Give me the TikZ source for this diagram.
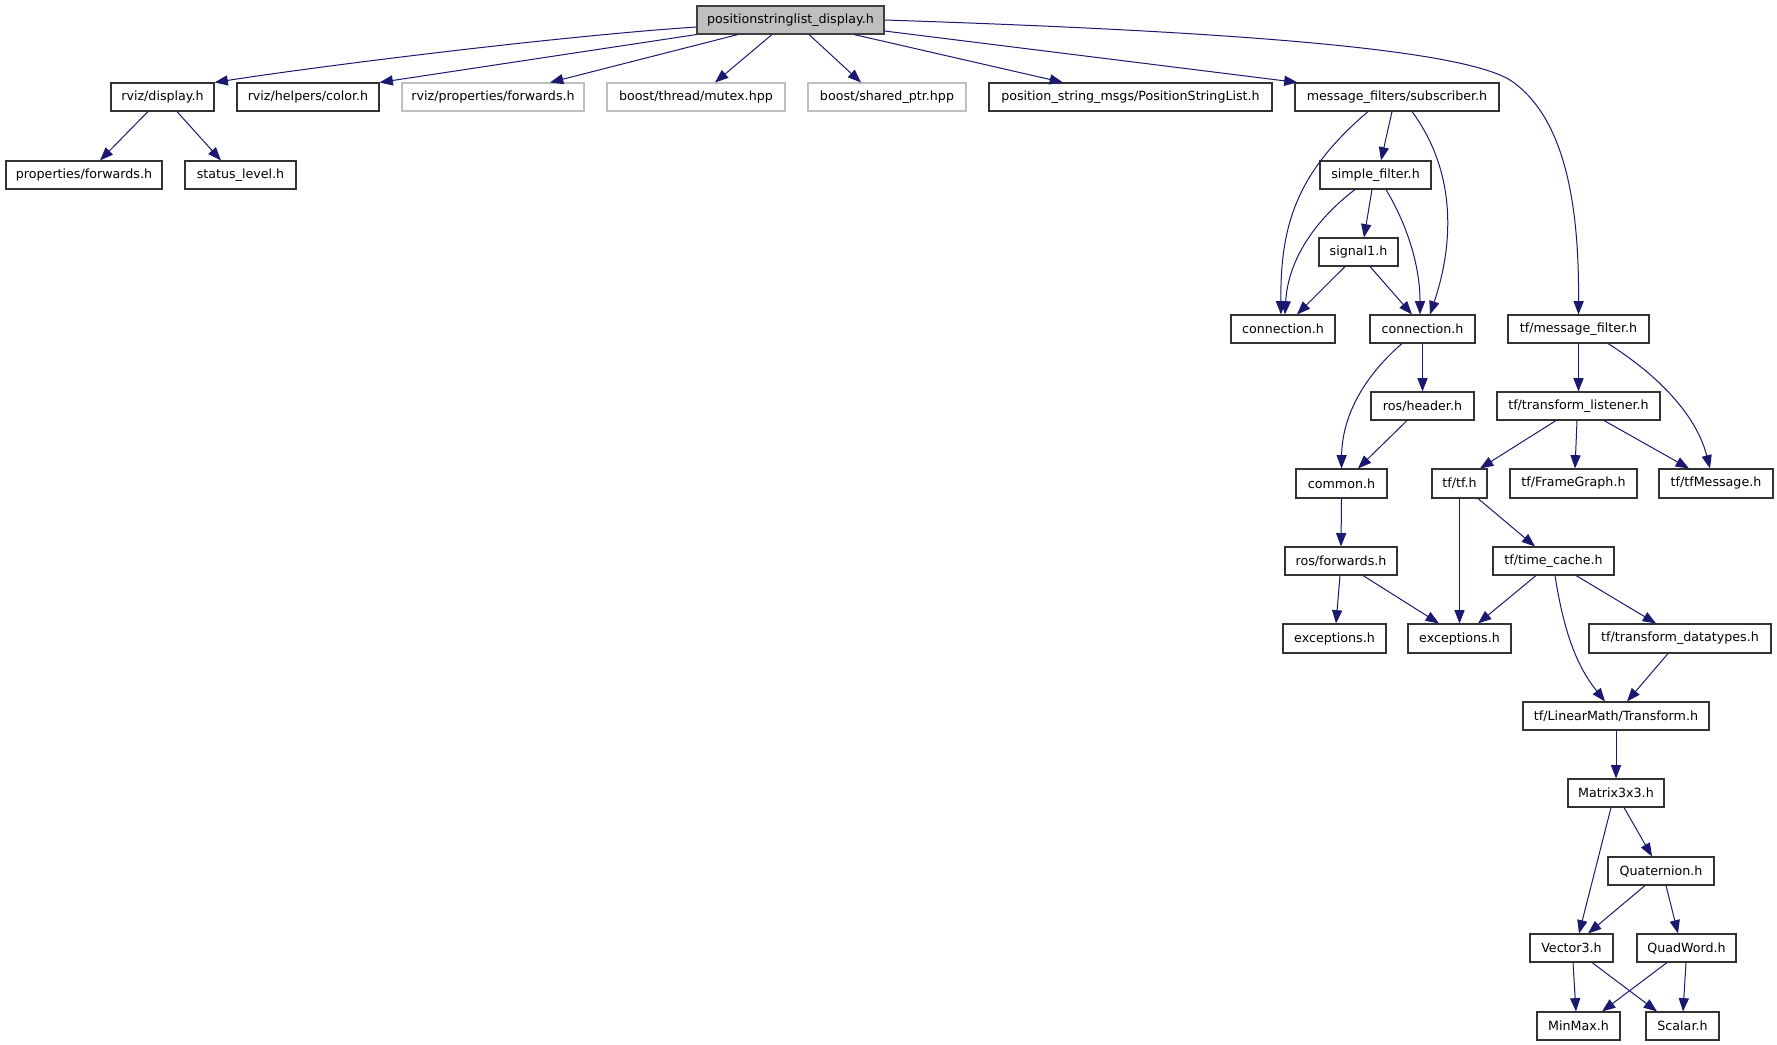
\documentclass[tikz,border=0pt]{standalone}
\usepackage{fontspec}
\setmainfont{DejaVu Sans}
\usetikzlibrary{arrows.meta,calc}
\definecolor{edgec}{HTML}{191970}
\definecolor{greybd}{HTML}{BFBFBF}
\definecolor{rootfill}{HTML}{BFBFBF}
\tikzset{
  box/.style={draw=black!80, line width=0.8pt, fill=white, inner sep=0pt, text=black,
    font=\fontsize{9.5}{11}\selectfont},
  ghost/.style={draw=greybd},
  root/.style={fill=rootfill, draw=black!75},
  edge/.style={draw=edgec, line width=0.75pt, -{Triangle[length=10pt,width=7.6pt]}}
}
\newcommand\nd[7][]{\node[box,minimum width={(#4-#2)*0.75pt},minimum height={(#5-#3)*0.75pt},#1] (#6) at ({(#2+#4)/2},{(#3+#5)/2}) {#7};}
\begin{document}
\begin{tikzpicture}[x=0.75pt,y=-0.75pt]
\fill[white] (0,0) rectangle (1777,1045);
\useasboundingbox (0,0) rectangle (1777,1045);
% nodes
\nd[root]{697}{6}{884}{34}{pos}{positionstringlist\_display.h}
\nd{111}{83}{214}{111}{display}{rviz/display.h}
\nd{237}{83}{379}{111}{color}{rviz/helpers/color.h}
\nd[ghost]{402}{83}{584}{111}{rpf}{rviz/properties/forwards.h}
\nd[ghost]{607}{83}{785}{111}{mutex}{boost/thread/mutex.hpp}
\nd[ghost]{808}{83}{966}{111}{shptr}{boost/shared\_ptr.hpp}
\nd{989}{83}{1272}{111}{psm}{position\_string\_msgs/PositionStringList.h}
\nd{1295}{83}{1499}{111}{sub}{message\_filters/subscriber.h}
\nd{6}{161}{162}{189}{pfw}{properties/forwards.h}
\nd{185}{161}{296}{189}{status}{status\_level.h}
\nd{1320}{161}{1431}{189}{sfil}{simple\_filter.h}
\nd{1319}{238}{1398}{266}{sig}{signal1.h}
\nd{1231}{315}{1335}{343}{con1}{connection.h}
\nd{1370}{315}{1475}{343}{con2}{connection.h}
\nd{1508}{315}{1649}{343}{tfmf}{tf/message\_filter.h}
\nd{1371}{392}{1474}{420}{hdr}{ros/header.h}
\nd{1497}{392}{1660}{420}{tl}{tf/transform\_listener.h}
\nd{1296}{469}{1387}{498}{common}{common.h}
\nd{1432}{469}{1487}{498}{tftf}{tf/tf.h}
\nd{1510}{469}{1637}{498}{fg}{tf/FrameGraph.h}
\nd{1659}{469}{1773}{498}{tfm}{tf/tfMessage.h}
\nd{1285}{547}{1397}{575}{rosfw}{ros/forwards.h}
\nd{1493}{547}{1614}{575}{tc}{tf/time\_cache.h}
\nd{1283}{624}{1386}{653}{exc1}{exceptions.h}
\nd{1408}{624}{1511}{653}{exc2}{exceptions.h}
\nd{1589}{624}{1771}{653}{td}{tf/transform\_datatypes.h}
\nd{1523}{702}{1709}{730}{tr}{tf/LinearMath/Transform.h}
\nd{1568}{779}{1664}{807}{mat}{Matrix3x3.h}
\nd{1608}{857}{1714}{885}{quat}{Quaternion.h}
\nd{1530}{934}{1613}{962}{vec}{Vector3.h}
\nd{1637}{934}{1736}{962}{qw}{QuadWord.h}
\nd{1537}{1012}{1620}{1040}{minmax}{MinMax.h}
\nd{1646}{1012}{1719}{1040}{scalar}{Scalar.h}
% edges
\draw[edge] ($(pos.west)+(0,7)$) .. controls (560,36) and (320,66) .. (display.north east);
\draw[edge] (pos.south west) -- (color.north east);
\draw[edge] ($(pos.south)+(-52.5,0)$) -- ($(rpf.north)+(57,0)$);
\draw[edge] ($(pos.south)+(-18.5,0)$) -- ($(mutex.north)+(19,0)$);
\draw[edge] ($(pos.south)+(18.5,0)$) -- ($(shptr.north)+(-26,0)$);
\draw[edge] ($(pos.south)+(63.5,0)$) -- ($(psm.north)+(-67.5,0)$);
\draw[edge] ($(pos.east)+(0,11)$) -- ($(sub.north west)+(3,0)$);
\draw[edge] (pos.east) .. controls (1250,32) and (1460,50) .. (1510,80)
   .. controls (1570,120) and (1579,220) .. (tfmf.north);
\draw[edge] ($(display.south)+(-14.5,0)$) -- ($(pfw.north)+(16,0)$);
\draw[edge] ($(display.south)+(14.5,0)$) -- ($(status.north)+(-19.5,0)$);
\draw[edge] ($(sub.south)+(-5,0)$) -- ($(sfil.north)+(5.5,0)$);
\draw[edge] ($(sub.south)+(-29,0)$) .. controls (1300,170) and (1280,220) .. ($(con1.north)+(-2,0)$);
\draw[edge] ($(sub.south)+(15,0)$) .. controls (1455,170) and (1455,240) .. ($(con2.north)+(7.5,0)$);
\draw[edge] ($(sfil.south)+(-20.5,0)$) .. controls (1315,220) and (1288,260) .. ($(con1.north)+(2,0)$);
\draw[edge] ($(sfil.south)+(-3.5,0)$) -- ($(sig.north)+(5.5,0)$);
\draw[edge] ($(sfil.south)+(10.5,0)$) .. controls (1410,230) and (1420,270) .. ($(con2.north)+(-2.5,0)$);
\draw[edge] ($(sig.south)+(-13.5,0)$) -- ($(con1.north)+(14,0)$);
\draw[edge] ($(sig.south)+(11.5,0)$) -- ($(con2.north)+(-10.5,0)$);
\draw[edge] (tfmf.south) -- (tl.north);
\draw[edge] ($(tfmf.south)+(29.5,0)$) .. controls (1650,370) and (1695,410) .. ($(tfm.north)+(-6,0)$);
\draw[edge] (con2.south) -- (hdr.north);
\draw[edge] ($(con2.south)+(-20.5,0)$) .. controls (1360,380) and (1342,420) .. (common.north);
\draw[edge] ($(hdr.south)+(-15.5,0)$) -- ($(common.north)+(16.5,0)$);
\draw[edge] ($(tl.south)+(-22.5,0)$) -- ($(tftf.north)+(20.5,0)$);
\draw[edge] ($(tl.south)+(-1.5,0)$) -- ($(fg.north)+(1.5,0)$);
\draw[edge] ($(tl.south)+(25.5,0)$) -- ($(tfm.north)+(-27,0)$);
\draw[edge] (common.south) -- (rosfw.north);
\draw[edge] (tftf.south) -- (exc2.north);
\draw[edge] ($(tftf.south)+(18.5,0)$) -- ($(tc.north)+(-18.5,0)$);
\draw[edge] ($(rosfw.south)+(-1,0)$) -- ($(exc1.north)+(1.5,0)$);
\draw[edge] ($(rosfw.south)+(22,0)$) -- ($(exc2.north)+(-20.5,0)$);
\draw[edge] ($(tc.south)+(-17.5,0)$) -- ($(exc2.north)+(18.5,0)$);
\draw[edge] ($(tc.south)+(1.5,0)$) .. controls (1565,640) and (1580,670) .. ($(tr.north)+(-11,0)$);
\draw[edge] ($(tc.south)+(22.5,0)$) -- ($(td.north)+(-24,0)$);
\draw[edge] ($(td.south)+(-12,0)$) -- ($(tr.north)+(11,0)$);
\draw[edge] (tr.south) -- (mat.north);
\draw[edge] ($(mat.south)+(-5,0)$) -- ($(vec.north)+(7.5,0)$);
\draw[edge] ($(mat.south)+(8,0)$) -- ($(quat.north)+(-9,0)$);
\draw[edge] ($(quat.south)+(-16,0)$) -- ($(vec.north)+(16.5,0)$);
\draw[edge] ($(quat.south)+(5,0)$) -- ($(qw.north)+(-8.5,0)$);
\draw[edge] ($(vec.south)+(1.5,0)$) -- ($(minmax.north)+(-2.5,0)$);
\draw[edge] ($(vec.south)+(20.5,0)$) -- ($(scalar.north)+(-25.5,0)$);
\draw[edge] ($(qw.south)+(-19.5,0)$) -- ($(minmax.north)+(23.5,0)$);
\draw[edge] ($(qw.south)+(-0.5,0)$) -- ($(scalar.north)+(0.5,0)$);
\end{tikzpicture}
\end{document}
